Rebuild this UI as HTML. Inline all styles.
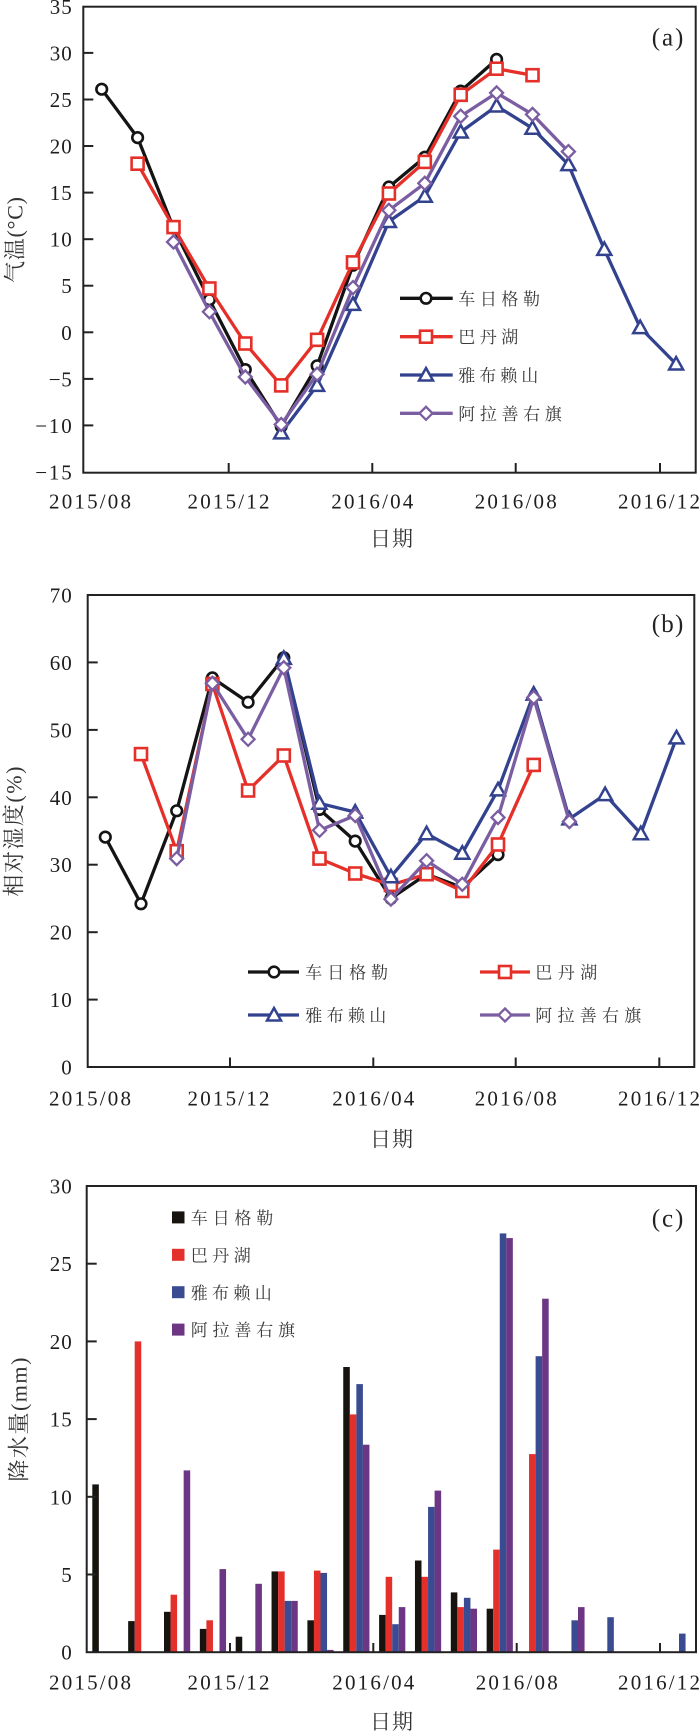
<!DOCTYPE html>
<html><head><meta charset="utf-8">
<style>
html,body{margin:0;padding:0;background:#fff;}
body{width:700px;height:1733px;overflow:hidden;}
svg{display:block;}
.num{font-family:"Liberation Serif",serif;font-size:21px;fill:#1e1e1e;}
.cjk{font-family:"Liberation Serif","Noto Serif CJK SC",serif;fill:#333;}
.lg{font-family:"Noto Serif CJK SC","Liberation Serif",serif;font-size:17px;fill:#3a3a3a;}
</style></head>
<body>
<svg width="700" height="1733" viewBox="0 0 700 1733" xmlns="http://www.w3.org/2000/svg">
<defs>
<circle id="cir" r="5.3" fill="#fff" stroke="#141414" stroke-width="2.6"/>
<rect id="sq" x="-6" y="-6" width="12" height="12" fill="#fff" stroke="#e5302a" stroke-width="2.6"/>
<path id="tri" d="M0,-7 L7,5.5 L-7,5.5 Z" fill="#fff" stroke="#33428f" stroke-width="2.5" stroke-linejoin="miter"/>
<path id="dia" d="M0,-6.5 L6.5,0 L0,6.5 L-6.5,0 Z" fill="#fff" stroke="#7b5ea2" stroke-width="2.3"/>
</defs>

<!-- ================= PANEL A ================= -->
<rect x="83.3" y="6.7" width="612.4" height="466" fill="none" stroke="#222" stroke-width="2"/>
<g stroke="#222" stroke-width="2">
<line x1="83.3" y1="52.9" x2="93.3" y2="52.9"/>
<line x1="83.3" y1="99.5" x2="93.3" y2="99.5"/>
<line x1="83.3" y1="146.0" x2="93.3" y2="146.0"/>
<line x1="83.3" y1="192.6" x2="93.3" y2="192.6"/>
<line x1="83.3" y1="239.2" x2="93.3" y2="239.2"/>
<line x1="83.3" y1="285.7" x2="93.3" y2="285.7"/>
<line x1="83.3" y1="332.3" x2="93.3" y2="332.3"/>
<line x1="83.3" y1="378.9" x2="93.3" y2="378.9"/>
<line x1="83.3" y1="425.4" x2="93.3" y2="425.4"/>
<line x1="228.7" y1="472.7" x2="228.7" y2="463"/>
<line x1="372.3" y1="472.7" x2="372.3" y2="463"/>
<line x1="515.7" y1="472.7" x2="515.7" y2="463"/>
<line x1="660" y1="472.7" x2="660" y2="463"/>
</g>
<g class="num" text-anchor="end">
<text x="71.7" y="13.8" textLength="22">35</text>
<text x="71.7" y="60.4" textLength="22">30</text>
<text x="71.7" y="107" textLength="22">25</text>
<text x="71.7" y="153.5" textLength="22">20</text>
<text x="71.7" y="200.1" textLength="22">15</text>
<text x="71.7" y="246.7" textLength="22">10</text>
<text x="71.7" y="293.2">5</text>
<text x="71.7" y="339.8">0</text>
<text x="71.7" y="386.4" textLength="23">−5</text>
<text x="71.7" y="432.9" textLength="36.5">−10</text>
<text x="71.7" y="479.5" textLength="36.5">−15</text>
</g>
<g class="num" text-anchor="middle">
<text x="90" y="508.5" textLength="82">2015/08</text>
<text x="228.5" y="508.5" textLength="82">2015/12</text>
<text x="372.3" y="508.5" textLength="82">2016/04</text>
<text x="515.7" y="508.5" textLength="82">2016/08</text>
<text x="659" y="508.5" textLength="82">2016/12</text>
</g>
<text class="cjk" x="370" y="546" font-size="21" textLength="43">日期</text>
<text class="cjk" font-size="22" text-anchor="middle" transform="translate(22.4,240) rotate(-90)" textLength="86">气温(°C)</text>
<text x="651.7" y="45.5" font-family="Liberation Serif,serif" font-size="25" fill="#222" textLength="31.6">(a)</text>

<g fill="none" stroke-width="3.3" stroke-linejoin="round" stroke-linecap="round">
<polyline stroke="#141414" points="101.7,89.2 137.6,137.6 173.5,228.0 209.4,299.7 245.3,369.6 281.2,426.4 317.1,365.8 353.0,265.2 388.9,187.0 424.8,157.2 460.7,91.1 496.6,59.4"/>
</g>
<g>
<use href="#cir" x="101.7" y="89.2"/><use href="#cir" x="137.6" y="137.6"/><use href="#cir" x="173.5" y="228.0"/><use href="#cir" x="209.4" y="299.7"/><use href="#cir" x="245.3" y="369.6"/><use href="#cir" x="281.2" y="426.4"/><use href="#cir" x="317.1" y="365.8"/><use href="#cir" x="353.0" y="265.2"/><use href="#cir" x="388.9" y="187.0"/><use href="#cir" x="424.8" y="157.2"/><use href="#cir" x="460.7" y="91.1"/><use href="#cir" x="496.6" y="59.4"/>
</g>
<polyline fill="none" stroke="#e5302a" stroke-width="3.3" stroke-linejoin="round" points="137.6,163.7 173.5,227.1 209.4,288.5 245.3,343.5 281.2,385.4 317.1,339.8 353.0,262.4 388.9,193.5 424.8,161.9 460.7,94.8 496.6,68.7 532.5,75.2"/>
<g>
<use href="#sq" x="137.6" y="163.7"/><use href="#sq" x="173.5" y="227.1"/><use href="#sq" x="209.4" y="288.5"/><use href="#sq" x="245.3" y="343.5"/><use href="#sq" x="281.2" y="385.4"/><use href="#sq" x="317.1" y="339.8"/><use href="#sq" x="353.0" y="262.4"/><use href="#sq" x="388.9" y="193.5"/><use href="#sq" x="424.8" y="161.9"/><use href="#sq" x="460.7" y="94.8"/><use href="#sq" x="496.6" y="68.7"/><use href="#sq" x="532.5" y="75.2"/>
</g>
<polyline fill="none" stroke="#33428f" stroke-width="3.3" stroke-linejoin="round" points="281.2,432.9 317.1,385.4 353.0,304.4 388.9,221.5 424.8,196.3 460.7,132.0 496.6,106.0 532.5,128.3 568.4,164.6 604.3,249.4 640.2,327.6 676.1,364.0"/>
<g>
<use href="#tri" x="281.2" y="432.9"/><use href="#tri" x="317.1" y="385.4"/><use href="#tri" x="353.0" y="304.4"/><use href="#tri" x="388.9" y="221.5"/><use href="#tri" x="424.8" y="196.3"/><use href="#tri" x="460.7" y="132.0"/><use href="#tri" x="496.6" y="106.0"/><use href="#tri" x="532.5" y="128.3"/><use href="#tri" x="568.4" y="164.6"/><use href="#tri" x="604.3" y="249.4"/><use href="#tri" x="640.2" y="327.6"/><use href="#tri" x="676.1" y="364.0"/>
</g>
<polyline fill="none" stroke="#7b5ea2" stroke-width="3.3" stroke-linejoin="round" points="173.5,242.0 209.4,311.8 245.3,377.0 281.2,424.5 317.1,374.2 353.0,287.6 388.9,210.3 424.8,183.3 460.7,116.2 496.6,92.9 532.5,114.4 568.4,151.6"/>
<g>
<use href="#dia" x="173.5" y="242.0"/><use href="#dia" x="209.4" y="311.8"/><use href="#dia" x="245.3" y="377.0"/><use href="#dia" x="281.2" y="424.5"/><use href="#dia" x="317.1" y="374.2"/><use href="#dia" x="353.0" y="287.6"/><use href="#dia" x="388.9" y="210.3"/><use href="#dia" x="424.8" y="183.3"/><use href="#dia" x="460.7" y="116.2"/><use href="#dia" x="496.6" y="92.9"/><use href="#dia" x="532.5" y="114.4"/><use href="#dia" x="568.4" y="151.6"/>
</g>

<!-- legend A -->
<g stroke-width="3.3">
<line x1="400" y1="298.3" x2="452.7" y2="298.3" stroke="#141414"/>
<line x1="400" y1="336.7" x2="452.7" y2="336.7" stroke="#e5302a"/>
<line x1="400" y1="375" x2="452.7" y2="375" stroke="#33428f"/>
<line x1="400" y1="413.3" x2="452.7" y2="413.3" stroke="#7b5ea2"/>
</g>
<use href="#cir" x="426" y="298.3"/>
<use href="#sq" x="426" y="336.7"/>
<use href="#tri" x="426" y="375"/>
<use href="#dia" x="426" y="413.3"/>
<text class="lg" x="458.3" y="304.8" textLength="81.7">车日格勒</text>
<text class="lg" x="458.3" y="343.2" textLength="60">巴丹湖</text>
<text class="lg" x="458.3" y="381.5" textLength="80">雅布赖山</text>
<text class="lg" x="458.3" y="419.8" textLength="103.4">阿拉善右旗</text>

<!-- ================= PANEL B ================= -->
<rect x="87.7" y="595" width="606.6" height="472" fill="none" stroke="#222" stroke-width="2"/>
<g stroke="#222" stroke-width="2">
<line x1="87.7" y1="662.4" x2="97.7" y2="662.4"/>
<line x1="87.7" y1="729.9" x2="97.7" y2="729.9"/>
<line x1="87.7" y1="797.3" x2="97.7" y2="797.3"/>
<line x1="87.7" y1="864.7" x2="97.7" y2="864.7"/>
<line x1="87.7" y1="932.2" x2="97.7" y2="932.2"/>
<line x1="87.7" y1="999.6" x2="97.7" y2="999.6"/>
<line x1="230" y1="1067" x2="230" y2="1057.5"/>
<line x1="373.3" y1="1067" x2="373.3" y2="1057.5"/>
<line x1="515.7" y1="1067" x2="515.7" y2="1057.5"/>
<line x1="659.3" y1="1067" x2="659.3" y2="1057.5"/>
</g>
<g class="num" text-anchor="end">
<text x="71.7" y="602.5" textLength="22">70</text>
<text x="71.7" y="669.9" textLength="22">60</text>
<text x="71.7" y="737.4" textLength="22">50</text>
<text x="71.7" y="804.8" textLength="22">40</text>
<text x="71.7" y="872.2" textLength="22">30</text>
<text x="71.7" y="939.7" textLength="22">20</text>
<text x="71.7" y="1007.1" textLength="22">10</text>
<text x="71.7" y="1074.5">0</text>
</g>
<g class="num" text-anchor="middle">
<text x="90" y="1105.5" textLength="82">2015/08</text>
<text x="228.5" y="1105.5" textLength="82">2015/12</text>
<text x="373.3" y="1105.5" textLength="82">2016/04</text>
<text x="515.7" y="1105.5" textLength="82">2016/08</text>
<text x="659" y="1105.5" textLength="82">2016/12</text>
</g>
<text class="cjk" x="370" y="1146.6" font-size="21" textLength="43">日期</text>
<text class="cjk" font-size="22" text-anchor="middle" transform="translate(21.7,831.6) rotate(-90)" textLength="130">相对湿度(%)</text>
<text x="651.7" y="632.2" font-family="Liberation Serif,serif" font-size="25" fill="#222" textLength="31.6">(b)</text>

<polyline fill="none" stroke="#141414" stroke-width="3.3" stroke-linejoin="round" points="105.3,837.1 141.0,903.8 176.7,810.8 212.4,677.9 248.1,702.2 283.8,657.7 319.5,809.4 355.2,841.1 390.9,898.4 426.6,874.2 462.3,887.6 498.0,854.6"/>
<g>
<use href="#cir" x="105.3" y="837.1"/><use href="#cir" x="141.0" y="903.8"/><use href="#cir" x="176.7" y="810.8"/><use href="#cir" x="212.4" y="677.9"/><use href="#cir" x="248.1" y="702.2"/><use href="#cir" x="283.8" y="657.7"/><use href="#cir" x="319.5" y="809.4"/><use href="#cir" x="355.2" y="841.1"/><use href="#cir" x="390.9" y="898.4"/><use href="#cir" x="426.6" y="874.2"/><use href="#cir" x="462.3" y="887.6"/><use href="#cir" x="498.0" y="854.6"/>
</g>
<polyline fill="none" stroke="#e5302a" stroke-width="3.3" stroke-linejoin="round" points="141.0,754.1 176.7,851.2 212.4,684.0 248.1,790.5 283.8,755.5 319.5,858.6 355.2,873.5 390.9,884.9 426.6,874.2 462.3,891.0 498.0,844.5 533.7,764.9"/>
<g>
<use href="#sq" x="141.0" y="754.1"/><use href="#sq" x="176.7" y="851.2"/><use href="#sq" x="212.4" y="684.0"/><use href="#sq" x="248.1" y="790.5"/><use href="#sq" x="283.8" y="755.5"/><use href="#sq" x="319.5" y="858.6"/><use href="#sq" x="355.2" y="873.5"/><use href="#sq" x="390.9" y="884.9"/><use href="#sq" x="426.6" y="874.2"/><use href="#sq" x="462.3" y="891.0"/><use href="#sq" x="498.0" y="844.5"/><use href="#sq" x="533.7" y="764.9"/>
</g>
<polyline fill="none" stroke="#33428f" stroke-width="3.3" stroke-linejoin="round" points="283.8,658.4 319.5,803.3 355.2,812.1 390.9,876.8 426.6,833.7 462.3,853.2 498.0,789.9 533.7,694.1 569.4,818.9 605.1,794.6 640.8,833.7 676.5,737.9"/>
<g>
<use href="#tri" x="283.8" y="658.4"/><use href="#tri" x="319.5" y="803.3"/><use href="#tri" x="355.2" y="812.1"/><use href="#tri" x="390.9" y="876.8"/><use href="#tri" x="426.6" y="833.7"/><use href="#tri" x="462.3" y="853.2"/><use href="#tri" x="498.0" y="789.9"/><use href="#tri" x="533.7" y="694.1"/><use href="#tri" x="569.4" y="818.9"/><use href="#tri" x="605.1" y="794.6"/><use href="#tri" x="640.8" y="833.7"/><use href="#tri" x="676.5" y="737.9"/>
</g>
<polyline fill="none" stroke="#7b5ea2" stroke-width="3.3" stroke-linejoin="round" points="176.7,858.6 212.4,683.3 248.1,739.3 283.8,667.8 319.5,830.3 355.2,815.5 390.9,899.1 426.6,860.7 462.3,884.3 498.0,817.5 533.7,697.5 569.4,821.6"/>
<g>
<use href="#dia" x="176.7" y="858.6"/><use href="#dia" x="212.4" y="683.3"/><use href="#dia" x="248.1" y="739.3"/><use href="#dia" x="283.8" y="667.8"/><use href="#dia" x="319.5" y="830.3"/><use href="#dia" x="355.2" y="815.5"/><use href="#dia" x="390.9" y="899.1"/><use href="#dia" x="426.6" y="860.7"/><use href="#dia" x="462.3" y="884.3"/><use href="#dia" x="498.0" y="817.5"/><use href="#dia" x="533.7" y="697.5"/><use href="#dia" x="569.4" y="821.6"/>
</g>

<!-- legend B -->
<g stroke-width="3.3">
<line x1="248" y1="972" x2="299" y2="972" stroke="#141414"/>
<line x1="480" y1="972" x2="530" y2="972" stroke="#e5302a"/>
<line x1="248" y1="1015" x2="299" y2="1015" stroke="#33428f"/>
<line x1="480" y1="1015" x2="530" y2="1015" stroke="#7b5ea2"/>
</g>
<use href="#cir" x="274" y="972"/>
<use href="#sq" x="505" y="972"/>
<use href="#tri" x="274" y="1015"/>
<use href="#dia" x="505" y="1015"/>
<text class="lg" x="305.3" y="978.5" textLength="82.7">车日格勒</text>
<text class="lg" x="535.2" y="978.5" textLength="62">巴丹湖</text>
<text class="lg" x="305.3" y="1021.5" textLength="81">雅布赖山</text>
<text class="lg" x="535.2" y="1021.5" textLength="106">阿拉善右旗</text>

<!-- ================= PANEL C ================= -->
<g>
<!-- Aug 2015 -->
<rect x="92.3" y="1484.4" width="6.55" height="167.8" fill="#17130f"/>
<!-- Sep -->
<rect x="128.15" y="1621.1" width="6.55" height="31.1" fill="#17130f"/>
<rect x="134.7" y="1341.4" width="6.55" height="310.8" fill="#e3302a"/>
<!-- Oct -->
<rect x="164.0" y="1611.8" width="6.55" height="40.4" fill="#17130f"/>
<rect x="170.55" y="1594.7" width="6.55" height="57.5" fill="#e3302a"/>
<rect x="183.65" y="1470.4" width="6.55" height="181.8" fill="#6c3684"/>
<!-- Nov -->
<rect x="199.85" y="1628.9" width="6.55" height="23.3" fill="#17130f"/>
<rect x="206.4" y="1620.3" width="6.55" height="31.9" fill="#e3302a"/>
<rect x="219.5" y="1569.1" width="6.55" height="83.1" fill="#6c3684"/>
<!-- Dec -->
<rect x="235.7" y="1636.7" width="6.55" height="15.5" fill="#17130f"/>
<rect x="255.35" y="1583.8" width="6.55" height="68.4" fill="#6c3684"/>
<!-- Jan -->
<rect x="271.55" y="1571.4" width="6.55" height="80.8" fill="#17130f"/>
<rect x="278.1" y="1571.4" width="6.55" height="80.8" fill="#e3302a"/>
<rect x="284.65" y="1600.9" width="6.55" height="51.3" fill="#3a4b92"/>
<rect x="291.2" y="1600.9" width="6.55" height="51.3" fill="#6c3684"/>
<!-- Feb -->
<rect x="307.4" y="1620.3" width="6.55" height="31.9" fill="#17130f"/>
<rect x="313.95" y="1570.6" width="6.55" height="81.6" fill="#e3302a"/>
<rect x="320.5" y="1572.9" width="6.55" height="79.3" fill="#3a4b92"/>
<rect x="327.05" y="1649.9" width="6.55" height="2.3" fill="#6c3684"/>
<!-- Mar -->
<rect x="343.25" y="1367.0" width="6.55" height="285.2" fill="#17130f"/>
<rect x="349.8" y="1414.4" width="6.55" height="237.8" fill="#e3302a"/>
<rect x="356.35" y="1384.1" width="6.55" height="268.1" fill="#3a4b92"/>
<rect x="362.9" y="1444.7" width="6.55" height="207.5" fill="#6c3684"/>
<!-- Apr -->
<rect x="379.1" y="1614.9" width="6.55" height="37.3" fill="#17130f"/>
<rect x="385.65" y="1576.8" width="6.55" height="75.4" fill="#e3302a"/>
<rect x="392.2" y="1624.2" width="6.55" height="28.0" fill="#3a4b92"/>
<rect x="398.75" y="1607.1" width="6.55" height="45.1" fill="#6c3684"/>
<!-- May -->
<rect x="414.95" y="1560.5" width="6.55" height="91.7" fill="#17130f"/>
<rect x="421.5" y="1576.8" width="6.55" height="75.4" fill="#e3302a"/>
<rect x="428.05" y="1506.9" width="6.55" height="145.3" fill="#3a4b92"/>
<rect x="434.6" y="1490.6" width="6.55" height="161.6" fill="#6c3684"/>
<!-- Jun -->
<rect x="450.8" y="1592.4" width="6.55" height="59.8" fill="#17130f"/>
<rect x="457.35" y="1607.1" width="6.55" height="45.1" fill="#e3302a"/>
<rect x="463.9" y="1597.8" width="6.55" height="54.4" fill="#3a4b92"/>
<rect x="470.45" y="1608.7" width="6.55" height="43.5" fill="#6c3684"/>
<!-- Jul -->
<rect x="486.65" y="1608.7" width="6.55" height="43.5" fill="#17130f"/>
<rect x="493.2" y="1549.6" width="6.55" height="102.6" fill="#e3302a"/>
<rect x="499.75" y="1233.4" width="6.55" height="418.8" fill="#3a4b92"/>
<rect x="506.3" y="1238.1" width="6.55" height="414.1" fill="#6c3684"/>
<!-- Aug 2016 -->
<rect x="529.05" y="1454.1" width="6.55" height="198.1" fill="#e3302a"/>
<rect x="535.6" y="1356.2" width="6.55" height="296.0" fill="#3a4b92"/>
<rect x="542.15" y="1298.7" width="6.55" height="353.5" fill="#6c3684"/>
<!-- Sep -->
<rect x="571.45" y="1620.3" width="6.55" height="31.9" fill="#3a4b92"/>
<rect x="578.0" y="1607.1" width="6.55" height="45.1" fill="#6c3684"/>
<!-- Oct -->
<rect x="607.3" y="1617.2" width="6.55" height="35.0" fill="#3a4b92"/>
<!-- Dec -->
<rect x="679.0" y="1633.6" width="6.55" height="18.6" fill="#3a4b92"/>
</g>
<rect x="86.7" y="1186" width="609.3" height="466.2" fill="none" stroke="#222" stroke-width="2"/>
<g stroke="#222" stroke-width="2">
<line x1="86.7" y1="1263.7" x2="96.7" y2="1263.7"/>
<line x1="86.7" y1="1341.4" x2="96.7" y2="1341.4"/>
<line x1="86.7" y1="1419.1" x2="96.7" y2="1419.1"/>
<line x1="86.7" y1="1496.8" x2="96.7" y2="1496.8"/>
<line x1="86.7" y1="1574.5" x2="96.7" y2="1574.5"/>
<line x1="230" y1="1652.2" x2="230" y2="1643"/>
<line x1="373.3" y1="1652.2" x2="373.3" y2="1643"/>
<line x1="516.7" y1="1652.2" x2="516.7" y2="1643"/>
<line x1="660" y1="1652.2" x2="660" y2="1643"/>
</g>
<g class="num" text-anchor="end">
<text x="71.7" y="1193.5" textLength="22">30</text>
<text x="71.7" y="1271.2" textLength="22">25</text>
<text x="71.7" y="1348.9" textLength="22">20</text>
<text x="71.7" y="1426.6" textLength="22">15</text>
<text x="71.7" y="1504.3" textLength="22">10</text>
<text x="71.7" y="1582">5</text>
<text x="71.7" y="1659.7">0</text>
</g>
<g class="num" text-anchor="middle">
<text x="90" y="1689.5" textLength="82">2015/08</text>
<text x="228.5" y="1689.5" textLength="82">2015/12</text>
<text x="373.3" y="1689.5" textLength="82">2016/04</text>
<text x="516.7" y="1689.5" textLength="82">2016/08</text>
<text x="659" y="1689.5" textLength="82">2016/12</text>
</g>
<text class="cjk" x="370" y="1729" font-size="21" textLength="43">日期</text>
<text class="cjk" font-size="22" text-anchor="middle" transform="translate(26.4,1419.6) rotate(-90)" textLength="124">降水量(mm)</text>
<text x="651.7" y="1226.3" font-family="Liberation Serif,serif" font-size="25" fill="#222" textLength="31.6">(c)</text>

<!-- legend C -->
<rect x="172" y="1211.4" width="12.5" height="12" fill="#17130f"/>
<rect x="172" y="1248.8" width="12.5" height="12" fill="#e3302a"/>
<rect x="172" y="1286.2" width="12.5" height="12" fill="#3a4b92"/>
<rect x="172" y="1323.6" width="12.5" height="12" fill="#6c3684"/>
<text class="lg" x="190.7" y="1224" font-size="18" textLength="82.6">车日格勒</text>
<text class="lg" x="190.7" y="1261.4" font-size="18" textLength="60">巴丹湖</text>
<text class="lg" x="190.7" y="1298.8" font-size="18" textLength="81">雅布赖山</text>
<text class="lg" x="190.7" y="1336.2" font-size="18" textLength="104.3">阿拉善右旗</text>
</svg>
</body></html>
